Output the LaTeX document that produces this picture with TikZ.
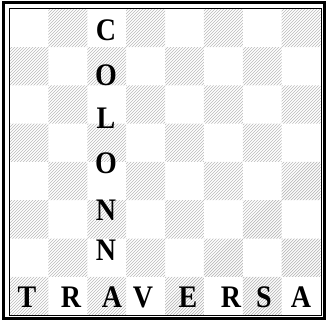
\documentclass[tikz,border=0pt]{standalone}
\usepackage{fontspec}
\setmainfont{Liberation Serif}
\begin{document}
\begin{tikzpicture}[x=1pt,y=-1pt,
  letter/.style={inner sep=0pt, font=\fontsize{28}{28}\selectfont\bfseries},
  hatch/.style={draw=gray!55, line width=0.7pt},
  outerframe/.style={draw=black, line width=3pt},
  innerframe/.style={draw=black, line width=1pt}]
\useasboundingbox (0,0) rectangle (326,320);
\begin{scope}
\clip foreach \r in {0,...,7} { foreach \i in {0,...,3} { ({9.5+38.875*(2*\i+1-mod(\r,2))},{9+38.25*\r}) rectangle ++(38.875,38.25) } };
\foreach \k in {-330,-327,...,330} \draw[hatch] (\k,320) -- ++(320,-320);
\end{scope}
\draw[outerframe] (3.5,2.5) rectangle (324,318);
\draw[innerframe] (9,9) rectangle (321,315);
% vertical word
\node[letter] (c1) at (106,30) {\scalebox{1}[1.12]{C}};
\node[letter] (o1) at (106,75) {\scalebox{1}[1.12]{O}};
\node[letter] (l1) at (106,118) {\scalebox{1}[1.12]{L}};
\node[letter] (o2) at (106,163) {\scalebox{1}[1.12]{O}};
\node[letter] (n1) at (106,210) {\scalebox{1}[1.12]{N}};
\node[letter] (n2) at (106,250) {\scalebox{1}[1.12]{N}};
% horizontal word
\node[letter] (t1) at (27,297) {\scalebox{1}[1.12]{T}};
\node[letter] (r1) at (71,297) {\scalebox{1}[1.12]{R}};
\node[letter] (a1) at (112,297) {\scalebox{1}[1.12]{A}};
\node[letter] (v1) at (143,297) {\scalebox{1}[1.12]{V}};
\node[letter] (e1) at (188,297) {\scalebox{1}[1.12]{E}};
\node[letter] (r2) at (231,297) {\scalebox{1}[1.12]{R}};
\node[letter] (s1) at (264,297) {\scalebox{1}[1.12]{S}};
\node[letter] (a2) at (301,297) {\scalebox{1}[1.12]{A}};
\end{tikzpicture}
\end{document}
